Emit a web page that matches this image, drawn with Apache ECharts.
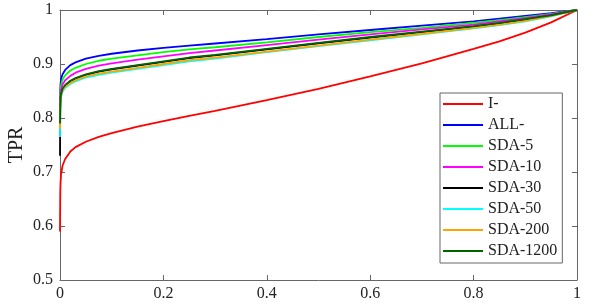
<!DOCTYPE html>
<html>
<head>
<meta charset="utf-8">
<script src="https://cdn.jsdelivr.net/npm/echarts@6/dist/echarts.min.js"></script>
<style>html,body{margin:0;padding:0;background:#fff}#c{width:598px;height:305px}</style>
</head>
<body>
<div id="c"></div>
<script>
const fpr = [0, 0.0005, 0.001, 0.002, 0.005, 0.01, 0.02, 0.03, 0.05, 0.075, 0.1, 0.15, 0.2, 0.25, 0.3, 0.4, 0.5, 0.6, 0.7, 0.8, 0.85, 0.9, 0.95, 1];
const seriesNames = ['I-', 'ALL-', 'SDA-5', 'SDA-10', 'SDA-30', 'SDA-50', 'SDA-200', 'SDA-1200'];
const tprI      = [0.59, 0.66, 0.68, 0.695, 0.712, 0.724, 0.738, 0.746, 0.756, 0.765, 0.772, 0.784, 0.794, 0.804, 0.813, 0.833, 0.854, 0.877, 0.901, 0.928, 0.942, 0.958, 0.977, 1.0];
const tprAll    = [0.80, 0.85, 0.862, 0.872, 0.881, 0.889, 0.898, 0.903, 0.910, 0.915, 0.919, 0.925, 0.930, 0.934, 0.938, 0.946, 0.955, 0.963, 0.971, 0.979, 0.984, 0.989, 0.994, 1.0];
const tprSda5   = [0.79, 0.84, 0.85, 0.86, 0.871, 0.879, 0.888, 0.893, 0.900, 0.906, 0.910, 0.916, 0.922, 0.927, 0.931, 0.940, 0.950, 0.959, 0.967, 0.976, 0.981, 0.987, 0.993, 1.0];
const tprSda10  = [0.80, 0.835, 0.843, 0.852, 0.862, 0.870, 0.878, 0.884, 0.891, 0.897, 0.901, 0.908, 0.914, 0.920, 0.925, 0.935, 0.945, 0.955, 0.964, 0.973, 0.979, 0.985, 0.992, 1.0];
const tprSda30  = [0.73, 0.82, 0.834, 0.843, 0.853, 0.860, 0.868, 0.873, 0.880, 0.886, 0.890, 0.897, 0.904, 0.911, 0.916, 0.927, 0.938, 0.949, 0.959, 0.969, 0.975, 0.982, 0.990, 1.0];
const tprSda50  = [0.765, 0.815, 0.83, 0.839, 0.849, 0.856, 0.863, 0.868, 0.875, 0.880, 0.884, 0.891, 0.898, 0.905, 0.910, 0.922, 0.933, 0.944, 0.955, 0.966, 0.972, 0.979, 0.988, 1.0];
const tprSda200 = [0.78, 0.818, 0.832, 0.841, 0.851, 0.858, 0.865, 0.870, 0.877, 0.882, 0.886, 0.893, 0.900, 0.907, 0.912, 0.923, 0.934, 0.945, 0.956, 0.967, 0.973, 0.980, 0.989, 1.0];
const tprSda1200= [0.79, 0.821, 0.835, 0.844, 0.854, 0.861, 0.869, 0.874, 0.881, 0.887, 0.891, 0.898, 0.905, 0.912, 0.917, 0.928, 0.939, 0.950, 0.960, 0.970, 0.976, 0.983, 0.990, 1.0];
const xTicks = [0, 0.2, 0.4, 0.6, 0.8, 1];
const yTicks = [0.5, 0.6, 0.7, 0.8, 0.9, 1];

const allTpr = [tprI, tprAll, tprSda5, tprSda10, tprSda30, tprSda50, tprSda200, tprSda1200];
const colors = ['#ff0000', '#0000ff', '#00ff00', '#ff00ff', '#000000', '#00ffff', '#ffa500', '#006400'];
const FONT = 'Liberation Serif';
const axisColor = '#666';

const chart = echarts.init(document.getElementById('c'), null, {renderer: 'canvas'});
const xBase = {
  type: 'value', min: xTicks[0], max: xTicks[xTicks.length - 1], interval: xTicks[1] - xTicks[0],
  axisLine: {show: true, onZero: false, lineStyle: {color: axisColor, width: 1}},
  axisTick: {show: true, inside: true, length: 5, lineStyle: {color: axisColor}},
  splitLine: {show: false}
};
const yBase = {
  type: 'value', min: yTicks[0], max: yTicks[yTicks.length - 1], interval: 0.1,
  axisLine: {show: true, onZero: false, lineStyle: {color: axisColor, width: 1}},
  axisTick: {show: true, inside: true, length: 5, lineStyle: {color: axisColor}},
  splitLine: {show: false}
};
chart.setOption({
  animation: false,
  grid: {left: 60, right: 21, top: 10, bottom: 25, containLabel: false, outerBoundsMode: 'none'},
  xAxis: [
    Object.assign({}, xBase, {position: 'bottom',
      axisLabel: {show: true, margin: 6, color: '#222', fontFamily: FONT, fontSize: 16,
        formatter: v => String(+v.toFixed(1))}}),
    Object.assign({}, xBase, {position: 'top', axisLabel: {show: false}})
  ],
  yAxis: [
    Object.assign({}, yBase, {position: 'left', name: 'TPR', nameLocation: 'middle', nameGap: 33,
      nameMoveOverlap: false,
      nameTextStyle: {fontFamily: FONT, fontSize: 20, color: '#222'},
      axisLabel: {show: true, margin: 7, color: '#222', fontFamily: FONT, fontSize: 16,
        formatter: v => String(+v.toFixed(1))}}),
    Object.assign({}, yBase, {position: 'right', axisLabel: {show: false}})
  ],
  legend: {
    orient: 'vertical', left: 440, top: 93,
    padding: [3, 5, 4, 3],
    backgroundColor: '#fff', borderColor: axisColor, borderWidth: 1,
    icon: 'rect', itemWidth: 40, itemHeight: 2, itemGap: 5, itemTextGap: 2,
    textStyle: {fontFamily: FONT, fontSize: 16, color: '#222', lineHeight: 14},
    data: seriesNames
  },
  series: seriesNames.map((n, k) => ({
    name: n, type: 'line', xAxisIndex: 0, yAxisIndex: 0,
    showSymbol: false, symbol: 'none',
    lineStyle: {color: colors[k], width: 1.8},
    itemStyle: {color: colors[k]},
    data: fpr.map((x, i) => [x, allTpr[k][i]])
  }))
});
</script>
</body>
</html>
